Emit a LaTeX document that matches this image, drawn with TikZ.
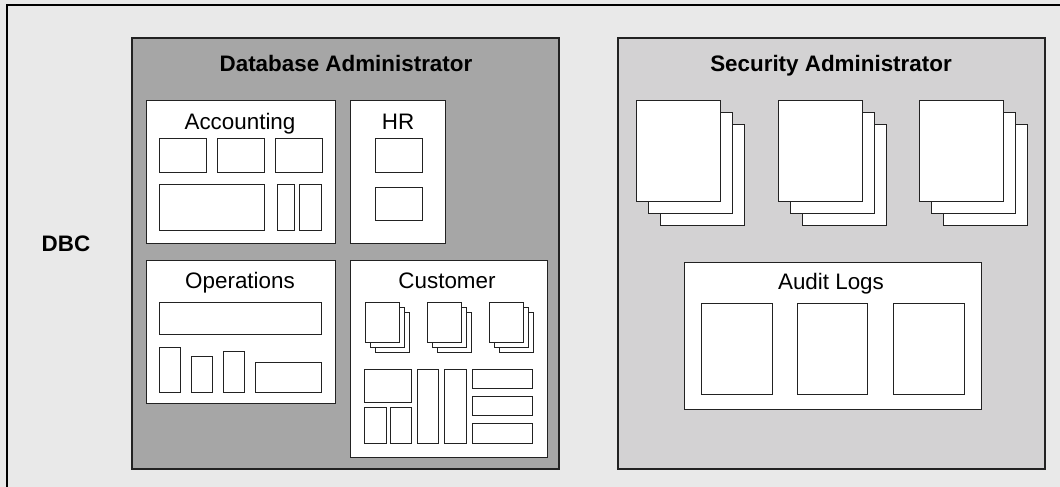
\documentclass[tikz,border=0pt]{standalone}
\usepackage{fontspec}
\setmainfont{Liberation Sans}
\definecolor{bgc}{HTML}{E9E9E9}
\definecolor{dbac}{HTML}{A6A6A6}
\definecolor{sac}{HTML}{D3D2D3}
\definecolor{linec}{HTML}{222222}
\tikzset{
  wbox/.style={draw=linec, fill=white, line width=1pt},
  adminbox/.style={draw=linec, line width=1.6pt},
  ttl/.style={font=\fontsize{22.4}{25}\selectfont\bfseries, inner sep=0pt, anchor=base},
  lbl/.style={font=\fontsize{22.4}{25}\selectfont, inner sep=0pt, anchor=base},
}
\newcommand\docstack[5]{%
  \draw[wbox] (#1+2*#5,#2+2*#5) rectangle ++(#3,#4);
  \draw[wbox] (#1+#5,#2+#5) rectangle ++(#3,#4);
  \draw[wbox] (#1,#2) rectangle ++(#3,#4);}
\begin{document}
\begin{tikzpicture}[x=1pt,y=-1pt]
\useasboundingbox (0,0) rectangle (1060,487);
\fill[bgc] (0,0) rectangle (1060,487);
\draw[black, line width=2pt] (7,487) -- (7,5) -- (1060,5);
\node[ttl] (dbc) at (66,251) {DBC};

% Database Administrator
\draw[adminbox, fill=dbac] (132,38) rectangle (559,469);
\node[ttl] (dbat) at (346,72) {Database Administrator};

% Accounting
\draw[wbox] (146,100) rectangle (335,243);
\node[lbl] (acc) at (240,129) {Accounting};
\draw[wbox] (159,138) rectangle (206,172);
\draw[wbox] (217,138) rectangle (264,172);
\draw[wbox] (275,138) rectangle (322,172);
\draw[wbox] (159,184) rectangle (264,230);
\draw[wbox] (277,184) rectangle (294,230);
\draw[wbox] (299,184) rectangle (321,230);

% HR
\draw[wbox] (350,100) rectangle (445,243);
\node[lbl] (hr) at (398,129) {HR};
\draw[wbox] (375,138) rectangle (422,172);
\draw[wbox] (375,187) rectangle (422,220);

% Operations
\draw[wbox] (146,260) rectangle (335,403);
\node[lbl] (ops) at (240,288) {Operations};
\draw[wbox] (159,302) rectangle (321,334);
\draw[wbox] (159,347) rectangle (180,392);
\draw[wbox] (191,356) rectangle (212,392);
\draw[wbox] (223,351) rectangle (244,392);
\draw[wbox] (255,362) rectangle (321,392);

% Customer
\draw[wbox] (350,260) rectangle (547,457);
\node[lbl] (cust) at (447,288) {Customer};
\docstack{365}{302}{34}{40}{5}
\docstack{427}{302}{34}{40}{5}
\docstack{489}{302}{34}{40}{5}
\draw[wbox] (364,369) rectangle (411,402);
\draw[wbox] (364,407) rectangle (386,443);
\draw[wbox] (390,407) rectangle (411,443);
\draw[wbox] (417,369) rectangle (438,443);
\draw[wbox] (444,369) rectangle (466,443);
\draw[wbox] (472,369) rectangle (532,388);
\draw[wbox] (472,396) rectangle (532,415);
\draw[wbox] (472,423) rectangle (532,443);

% Security Administrator
\draw[adminbox, fill=sac] (618,38) rectangle (1045,469);
\node[ttl] (sat) at (831,72) {Security Administrator};
\docstack{636}{100}{84}{101}{12}
\docstack{778}{100}{84}{101}{12}
\docstack{919}{100}{84}{101}{12}

% Audit Logs
\draw[wbox] (684,262) rectangle (981,409);
\node[lbl] (audit) at (831,289) {Audit Logs};
\draw[wbox] (701,303) rectangle (772,394);
\draw[wbox] (797,303) rectangle (867,394);
\draw[wbox] (893,303) rectangle (964,394);
\end{tikzpicture}
\end{document}
